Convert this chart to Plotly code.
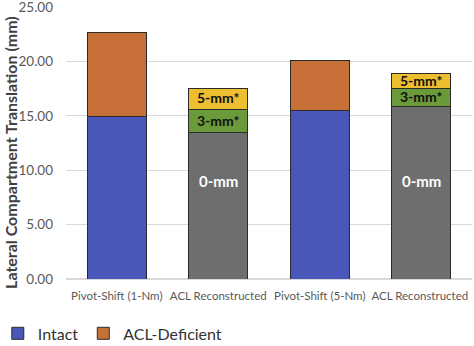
import plotly.graph_objects as go

# Categories along the x axis
categories = ["Pivot-Shift (1-Nm)", "ACL Reconstructed", "Pivot-Shift (5-Nm)", "ACL Reconstructed "]

# Stacked segments (mm); None where a segment is absent
intact = [14.9, None, 15.45, None]
acl_deficient = [7.8, None, 4.65, None]
recon_0mm = [None, 13.45, None, 15.9]
recon_3mm = [None, 2.1, None, 1.6]
recon_5mm = [None, 2.0, None, 1.35]

y_ticks = [0, 5, 10, 15, 20, 25]

font_family = "Lato, 'Open Sans', sans-serif"
outline = dict(color="#2b2b2b", width=1)

fig = go.Figure()
fig.add_bar(x=categories, y=intact, name="Intact",
            marker=dict(color="#4A57BA", line=outline))
fig.add_bar(x=categories, y=acl_deficient, name="ACL-Deficient",
            marker=dict(color="#C66F36", line=outline))
fig.add_bar(x=categories, y=recon_0mm, name="0-mm", showlegend=False,
            marker=dict(color="#6E6E6E", line=outline))
fig.add_bar(x=categories, y=recon_3mm, name="3-mm", showlegend=False,
            marker=dict(color="#6A9A3A", line=outline))
fig.add_bar(x=categories, y=recon_5mm, name="5-mm", showlegend=False,
            marker=dict(color="#EDBE2F", line=outline))

# Segment labels on the reconstructed bars
label_font = dict(family=font_family, size=14, color="#111111")
for i in range(len(categories)):
    if recon_0mm[i] is None:
        continue
    base3 = recon_0mm[i]
    base5 = base3 + recon_3mm[i]
    fig.add_annotation(x=categories[i], y=base3 + recon_3mm[i] / 2, text="<b>3-mm*</b>",
                       showarrow=False, font=label_font, yshift=1, borderpad=0)
    fig.add_annotation(x=categories[i], y=base5 + recon_5mm[i] / 2, text="<b>5-mm*</b>",
                       showarrow=False, font=label_font, yshift=1, borderpad=0)
    fig.add_annotation(x=categories[i], y=9.0, text="<b>0-mm</b>", showarrow=False,
                       font=dict(family=font_family, size=15, color="white"))

# Vertical axis title
fig.add_annotation(xref="paper", yref="paper", x=-0.137, y=0.465,
                   xanchor="center", yanchor="middle", textangle=-90, showarrow=False,
                   borderpad=0,
                   text="<b>Lateral Compartment Translation (mm)</b>",
                   font=dict(family=font_family, size=16, color="#404040"))

fig.update_layout(
    width=474, height=346,
    margin=dict(l=66, r=2, t=7, b=67, autoexpand=False),
    barmode="stack", bargap=0.42,
    plot_bgcolor="white", paper_bgcolor="white",
    font=dict(family=font_family, color="#595959"),
    legend=dict(orientation="h", x=-0.168, xanchor="left", y=-0.2, yanchor="middle",
                font=dict(size=16, color="#333333"), itemwidth=30,
                traceorder="normal"),
    xaxis=dict(tickfont=dict(size=11.5, color="#595959"), showline=False,
               ticks="", showgrid=False, ticklabelstandoff=8, automargin=False),
    yaxis=dict(range=[0, 25], tickvals=y_ticks, tickformat=".2f",
               tickfont=dict(size=13.5, color="#595959"),
               showgrid=True, gridcolor="#D9D9D9", gridwidth=1,
               zeroline=True, zerolinecolor="#D9D9D9", ticks="",
               ticklabelstandoff=12, ticklabeloverflow="allow", automargin=False),
)

fig.write_html("out.html")
